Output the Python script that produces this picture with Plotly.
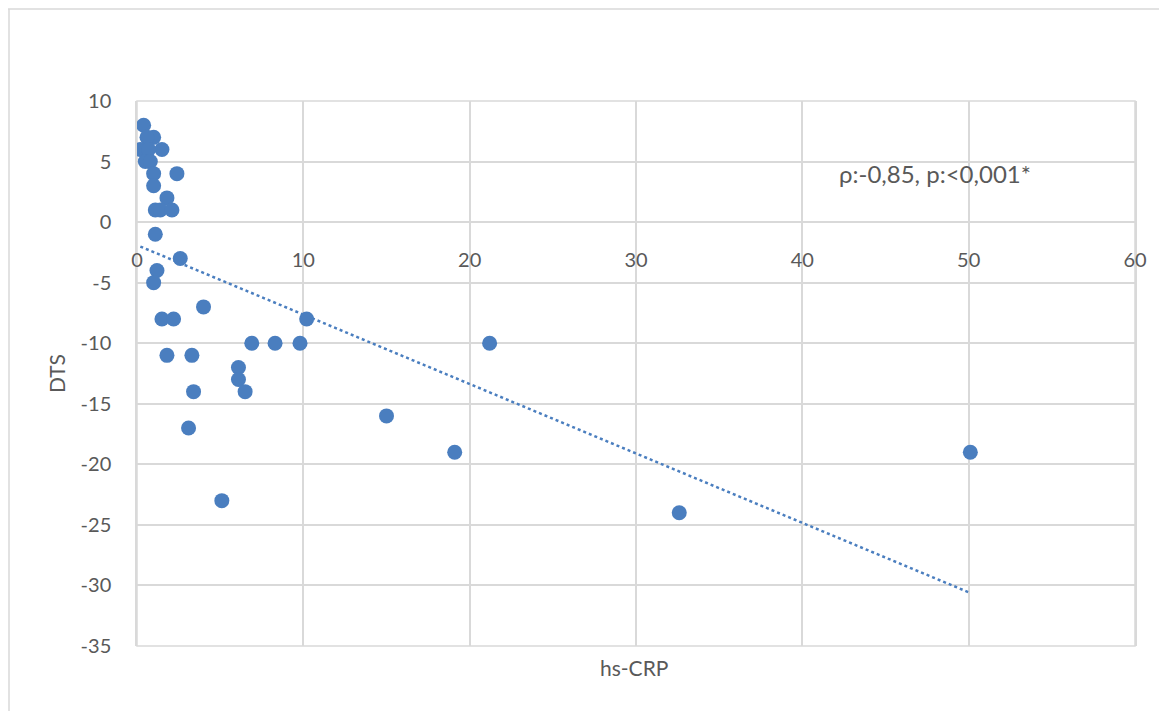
import numpy as np
import plotly.graph_objects as go

hs_crp = [0.4, 1.0, 0.6, 0.2, 1.5, 0.7, 0.5, 0.8, 1.0, 2.4, 1.0, 1.8, 1.1, 1.4, 2.1,
          1.1, 2.6, 1.2, 1.0, 4.0, 1.5, 2.2, 10.2, 6.9, 8.3, 9.8, 1.8, 3.3, 6.1, 6.1,
          6.5, 3.4, 3.1, 5.1, 21.2, 15.0, 19.1, 32.6, 50.1]
dts = [8, 7, 7, 6, 6, 6, 5, 5, 4, 4, 3, 2, 1, 1, 1,
       -1, -3, -4, -5, -7, -8, -8, -8, -10, -10, -10, -11, -11, -12, -13,
       -14, -14, -17, -23, -10, -16, -19, -24, -19]

x_ticks = [0, 10, 20, 30, 40, 50, 60]
x_tick_labels = ["0", "10", "20", "30", "40", "50", "60"]
y_ticks = [10, 5, 0, -5, -10, -15, -20, -25, -30, -35]
y_tick_labels = ["10", "5", "0", "-5", "-10", "-15", "-20", "-25", "-30", "-35"]
annotation_text = "ρ:-0,85, p:<0,001*"

blue = "#4a7ebf"
grey_text = "#595959"
grid = "#d9d9d9"
font_family = "Lato, 'Open Sans', sans-serif"

x = np.array(hs_crp)
y = np.array(dts)
slope, intercept = np.polyfit(x, y, 1)
tx = np.array([x.min(), x.max()])
ty = slope * tx + intercept

fig = go.Figure()
fig.add_trace(go.Scatter(x=tx, y=ty, mode="lines",
                         line=dict(color=blue, width=2.5, dash="dot"),
                         hoverinfo="skip", showlegend=False))
fig.add_trace(go.Scatter(x=hs_crp, y=dts, mode="markers",
                         marker=dict(color=blue, size=15),
                         showlegend=False))

ypos = (0 - (-35)) / (10 - (-35))
PW, PH = 998, 545  # plot area size in px

fig.update_layout(
    width=1167, height=711,
    margin=dict(l=129, r=40, t=93, b=73),
    paper_bgcolor="white", plot_bgcolor="white",
    font=dict(family=font_family, color=grey_text, size=20),
    xaxis=dict(range=[0, 60], tickvals=x_ticks, ticktext=x_tick_labels,
               showgrid=True, gridcolor=grid,
               gridwidth=1.5, zeroline=False, anchor="free", position=ypos,
               showline=True, linecolor=grid, linewidth=1.5, ticks="",
               ticklabelstandoff=20, tickfont=dict(size=20, color=grey_text)),
    yaxis=dict(range=[-35, 10], tickvals=y_ticks, ticktext=y_tick_labels,
               showgrid=True, gridcolor=grid,
               gridwidth=1.5, zeroline=False, showline=True, linecolor=grid,
               linewidth=1.5, mirror=True, ticks="", ticklabelstandoff=20,
               title=dict(text="DTS", font=dict(size=21, color=grey_text), standoff=9),
               tickfont=dict(size=20, color=grey_text)),
    annotations=[
        dict(text=annotation_text, x=0.7996, y=1 - 72 / PH, xref="paper", yref="paper",
             showarrow=False, font=dict(size=24, color=grey_text),
             xanchor="center", yanchor="middle"),
        dict(text="hs-CRP", x=0.498, y=-21 / PH, xref="paper", yref="paper",
             showarrow=False, font=dict(size=21, color=grey_text),
             xanchor="center", yanchor="middle"),
    ],
    shapes=[
        dict(type="rect", xref="paper", yref="paper", x0=0, x1=1, y0=0, y1=1,
             line=dict(color=grid, width=1.5), layer="below"),
        dict(type="line", xref="paper", yref="paper", x0=-129 / PW, x1=1.1,
             y0=1 + 92 / PH, y1=1 + 92 / PH, line=dict(color=grid, width=1.5)),
        dict(type="line", xref="paper", yref="paper", x0=-128 / PW, x1=-128 / PW,
             y0=1 + 92 / PH, y1=-0.2, line=dict(color=grid, width=1.5)),
    ],
)

fig.write_html("out.html")
